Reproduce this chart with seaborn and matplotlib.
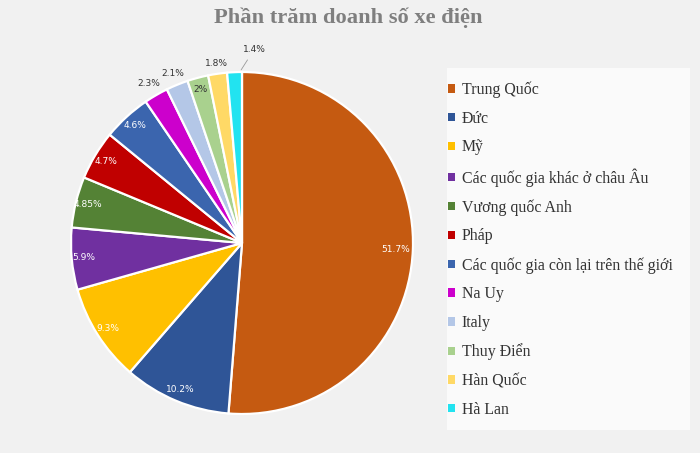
import numpy as np
import matplotlib
matplotlib.use('Agg')
import matplotlib.pyplot as plt
from matplotlib.patches import Rectangle
import seaborn as sns

# du lieu doc tu bieu do
countries = ['Trung Quốc', 'Đức', 'Mỹ', 'Các quốc gia khác ở châu Âu', 'Vương quốc Anh', 'Pháp',
             'Các quốc gia còn lại trên thế giới', 'Na Uy', 'Italy', 'Thuy Điển', 'Hàn Quốc', 'Hà Lan']
shares = [51.7, 10.2, 9.3, 5.9, 4.85, 4.7, 4.6, 2.3, 2.1, 2, 1.8, 1.4]
pct_labels = ['51.7%', '10.2%', '9.3%', '5.9%', '4.85%', '4.7%', '4.6%', '2.3%', '2.1%', '2%', '1.8%', '1.4%']
colors = ['#C55A11', '#2F5597', '#FFC000', '#7030A0', '#548235', '#C00000',
          '#3B65AE', '#CC00CC', '#B4C7E7', '#A9D18E', '#FFD966', '#22E3F0']

sns.set_theme(style='white')
plt.rcParams['font.family'] = ['DejaVu Sans']

fig = plt.figure(figsize=(7, 4.53), dpi=100, facecolor='#f1f1f1')
lim = 1.03
w = 342 * lim / 700
h = 342 * lim / 453
cx, cy = 242 / 700, (453 - 243) / 453
ax = fig.add_axes([cx - w / 2, cy - h / 2, w, h])
ax.set_facecolor('none')

wedges, _ = ax.pie(shares, colors=colors, startangle=90, counterclock=False,
                   wedgeprops=dict(edgecolor='white', linewidth=1.6))
ax.set_xlim(-lim, lim)
ax.set_ylim(-lim, lim)
ax.set_aspect('equal')

# nhan phan tram
outside = {7: 1.08, 8: 1.07, 10: 1.06}
for i, wd in enumerate(wedges):
    ang = np.deg2rad((wd.theta1 + wd.theta2) / 2)
    if i == 11:
        x0, y0 = np.cos(ang) * 1.0, np.sin(ang) * 1.0
        ax.annotate(pct_labels[i], xy=(x0 + 0.03, y0), xytext=(0.07, 1.13), fontsize=6.5,
                    color='#333333', ha='center', va='center',
                    arrowprops=dict(arrowstyle='-', color='#999999', lw=0.6))
        continue
    if i in outside:
        r = outside[i]
        col = '#333333'
    else:
        r = 0.9 if i == 0 else 0.93
        col = '#333333' if i == 9 else 'white'
    ax.text(np.cos(ang) * r, np.sin(ang) * r, pct_labels[i], fontsize=6.5, color=col,
            ha='center', va='center')

fig.suptitle('Phần trăm doanh số xe điện', x=348 / 700, y=1 - 7 / 453, va='top',
             fontsize=16.2, fontweight='bold', color='#7f7f7f', family='Liberation Serif')

# nen cua chu giai
fig.patches.append(Rectangle((447 / 700, 1 - 430 / 453), 243 / 700, 362 / 453,
                             transform=fig.transFigure, facecolor='#fafafa', edgecolor='none', zorder=0))
leg = fig.legend(wedges, countries, loc='upper left', bbox_to_anchor=(446 / 700, 1 - 80 / 453),
                 frameon=False, prop=dict(family='Liberation Serif', size=11.4), labelcolor='#333333',
                 handlelength=0.45, handleheight=0.45, handletextpad=0.45, labelspacing=0.8,
                 borderpad=0.1, borderaxespad=0)
for hnd in leg.legend_handles:
    hnd.set_edgecolor('none')

fig.savefig('out.png', dpi=100, facecolor=fig.get_facecolor())
